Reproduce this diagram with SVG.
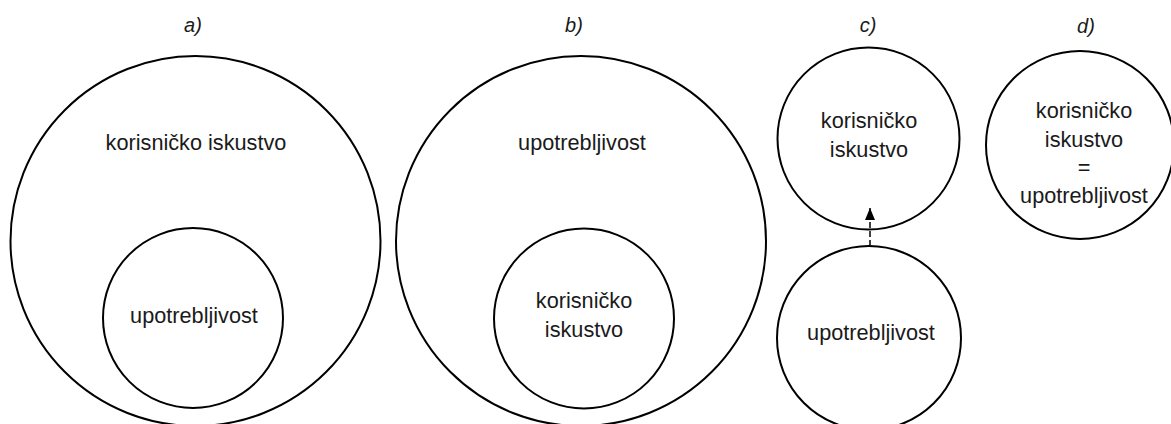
<svg xmlns="http://www.w3.org/2000/svg" width="1171" height="424" viewBox="0 0 1171 424">
<style>
.c{fill:none;stroke:#000;stroke-width:2}
.t{font-family:"Liberation Sans",Arial,sans-serif;font-size:21.7px;fill:#1a1a1a;text-anchor:middle}
.l{font-family:"Liberation Sans",Arial,sans-serif;font-size:20px;font-style:italic;fill:#1a1a1a;text-anchor:middle}
.e{stroke:#000;stroke-width:1.5;stroke-dasharray:6 3;fill:none}
</style>
<defs>
<marker id="ah" viewBox="0 0 12 10" refX="12" refY="5" markerWidth="12" markerHeight="10" markerUnits="userSpaceOnUse" orient="auto">
<path d="M0,0 L12,5 L0,10 Z" fill="#000"/>
</marker>
</defs>
<g id="labels">
<text class="l" x="193" y="32">a)</text>
<text class="l" x="574" y="32">b)</text>
<text class="l" x="868" y="32">c)</text>
<text class="l" x="1086" y="33">d)</text>
</g>
<g id="a-outer"><circle class="c" cx="195.5" cy="241" r="185"/><text class="t" x="196" y="150">korisničko iskustvo</text></g>
<g id="a-inner"><circle class="c" cx="193" cy="318" r="90"/><text class="t" x="194" y="323">upotrebljivost</text></g>
<g id="b-outer"><circle class="c" cx="581" cy="241" r="185"/><text class="t" x="582" y="150">upotrebljivost</text></g>
<g id="b-inner"><circle class="c" cx="584" cy="318.5" r="90"/><text class="t" x="584" y="308">korisničko</text><text class="t" x="584" y="337">iskustvo</text></g>
<g id="c-top"><circle class="c" cx="868.5" cy="138.5" r="91"/><text class="t" x="869" y="128">korisničko</text><text class="t" x="869" y="157">iskustvo</text></g>
<g id="c-bottom"><circle class="c" cx="869" cy="338" r="92"/><text class="t" x="871" y="340">upotrebljivost</text></g>
<g id="d"><circle class="c" cx="1080" cy="145" r="94"/><text class="t" x="1084" y="118">korisničko</text><text class="t" x="1084" y="147">iskustvo</text><text class="t" x="1084" y="175">=</text><text class="t" x="1084" y="203">upotrebljivost</text></g>
<g id="connectors">
<line class="e" x1="870" y1="246" x2="870" y2="208" marker-end="url(#ah)"/>
</g>
</svg>
